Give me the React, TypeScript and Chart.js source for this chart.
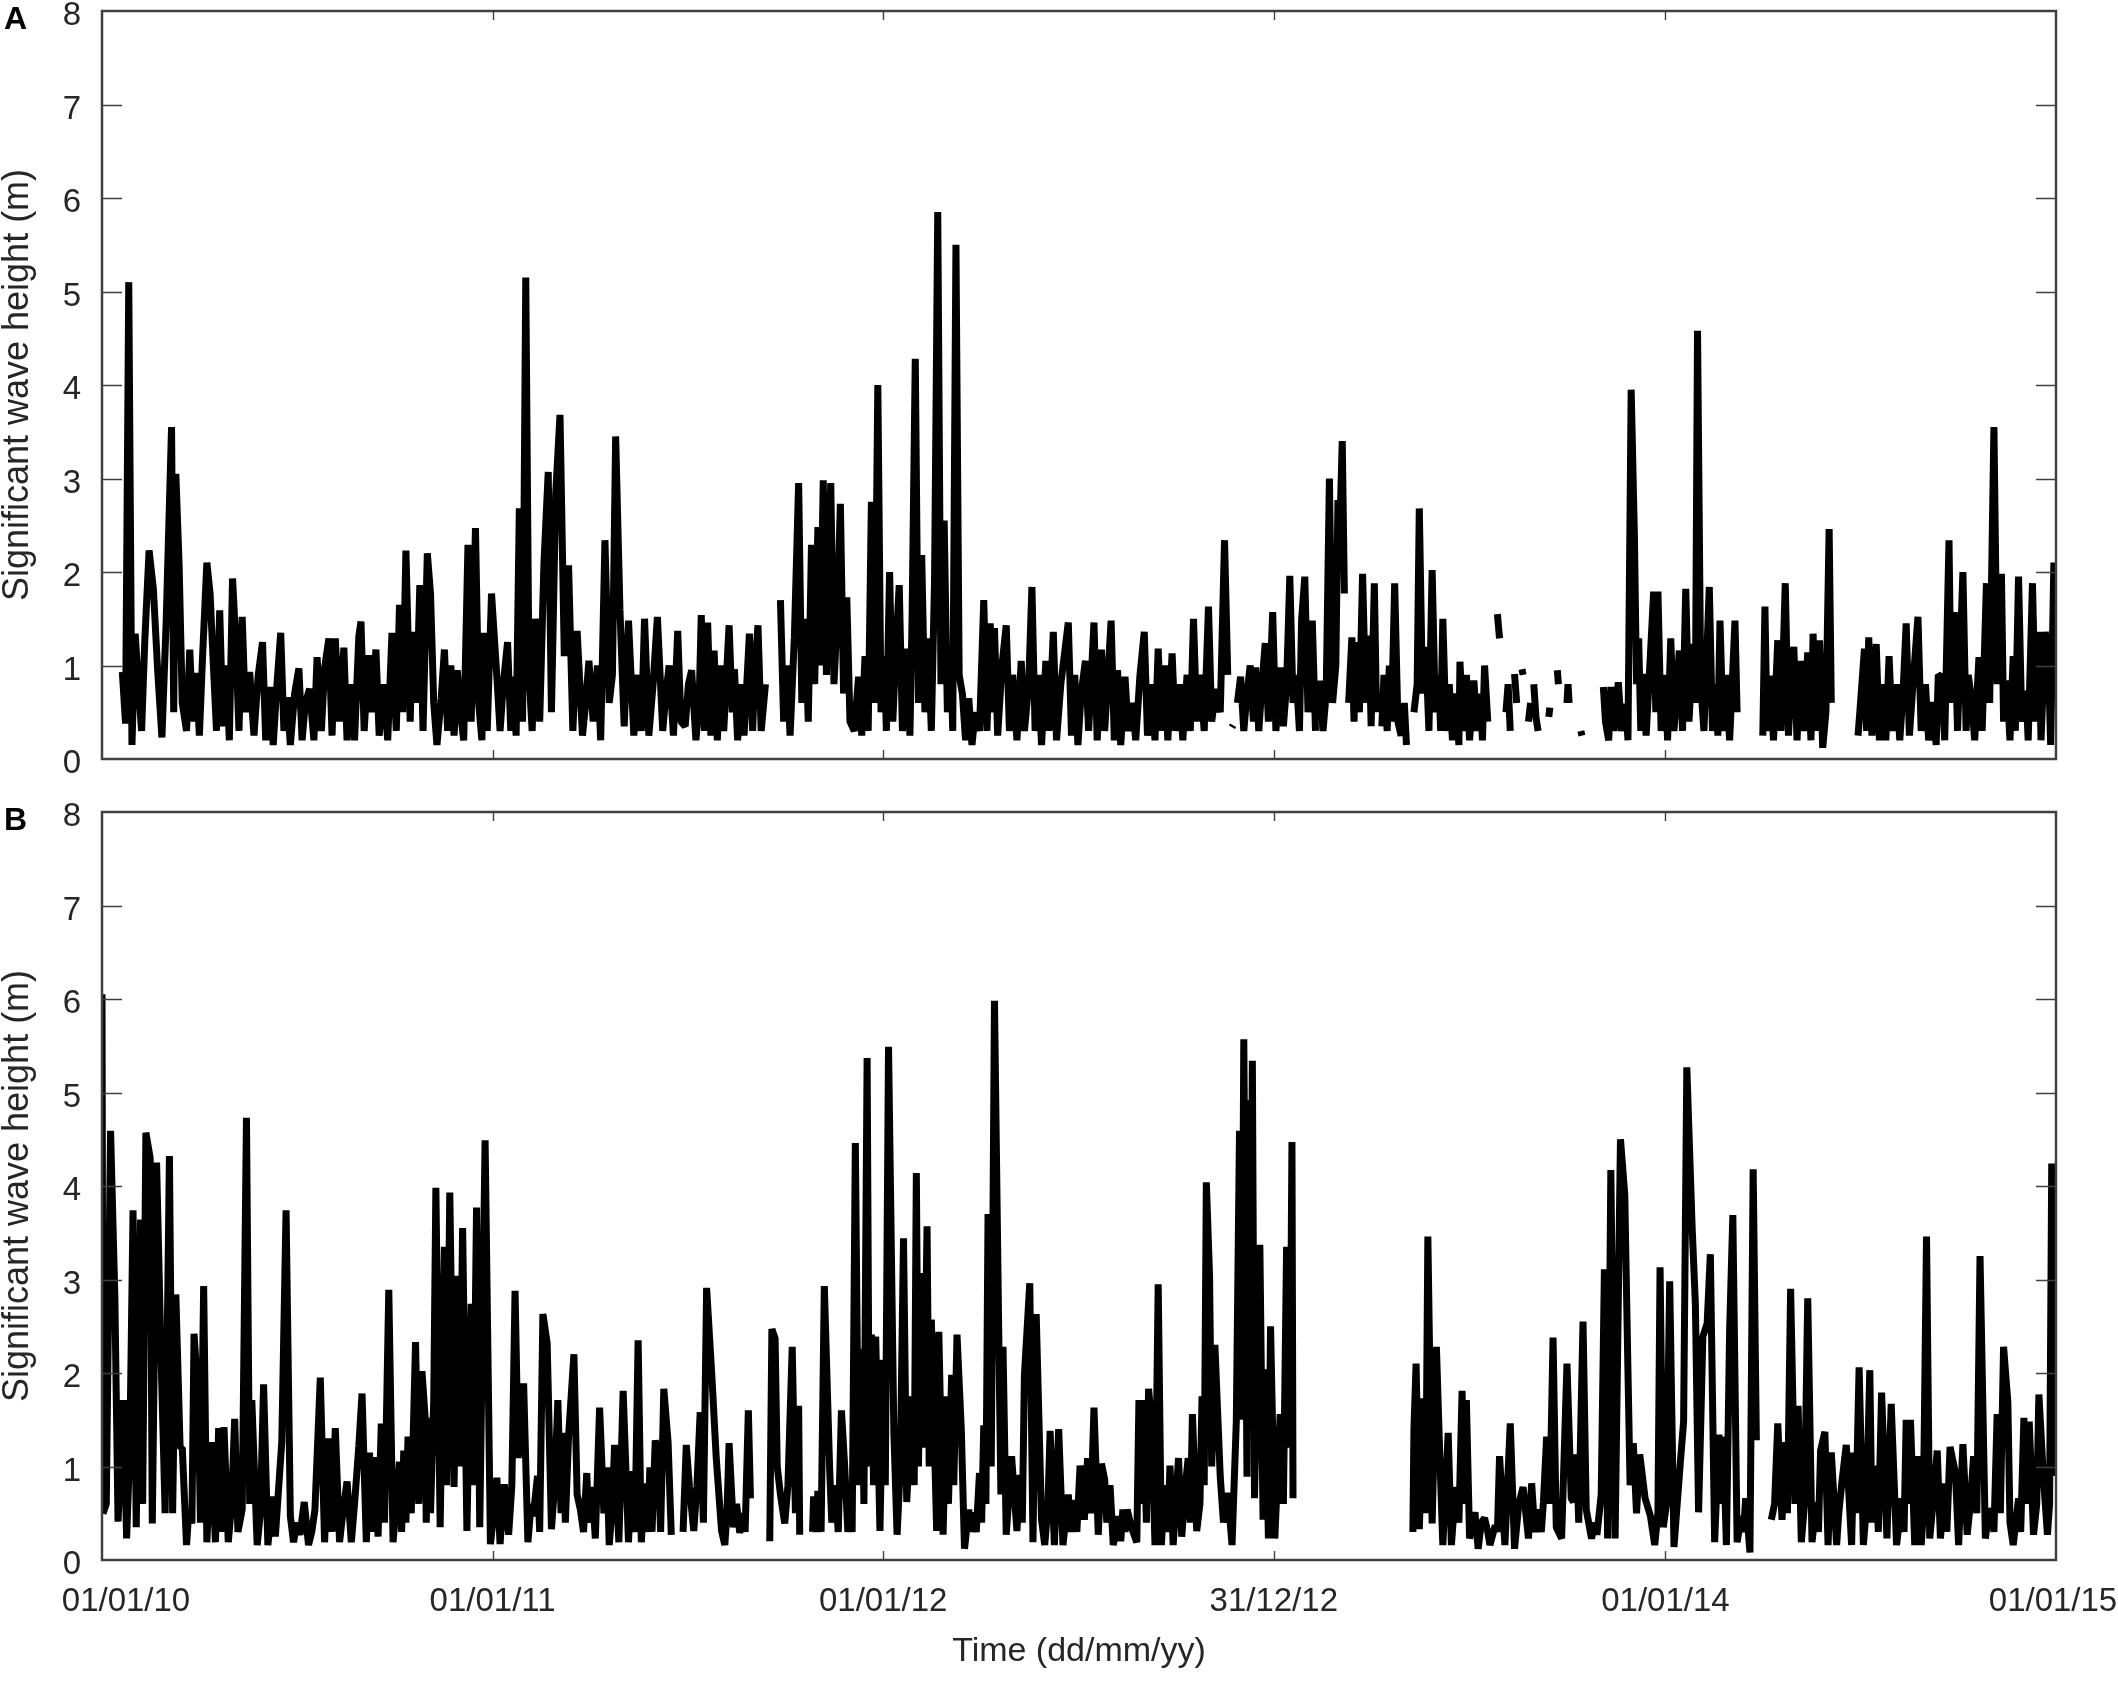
import React, { useEffect, useRef } from 'react';
import { Chart, registerables } from 'chart.js';

Chart.register(...registerables);

// ---------- axis definitions ----------
const X_MAX_DAY = 1826;
const X_TICK_DAYS = [0, 365, 730, 1095, 1461, 1826];
const X_TICK_LABELS = ['01/01/10', '01/01/11', '01/01/12', '31/12/12', '01/01/14', '01/01/15'];
const Y_TICKS = [0, 1, 2, 3, 4, 5, 6, 7, 8];
const Y_TITLE = 'Significant wave height (m)';
const X_TITLE = 'Time (dd/mm/yy)';

type Pt = [number, number | null];

// ---------- Panel A: [day since 01/01/10, Hs (m)] ----------
const hsA2010: Pt[] = [
  [19,0.93],[22,0.38],[25,5.1],[28,0.15],[31,1.34],[34,0.8],[37,0.3],[40,1.27],[44,2.23],[48,1.82],[52,0.95],[56,0.23],[60,1.48],[65,3.55],[67,0.5],[69,3.05],[72,2.1],[75,0.6],[79,0.3],[82,1.17],[85,0.4],[88,0.92],[91,0.25],[94,1.1],[98,2.1],[101,1.77],[104,1.02],[107,0.3],[110,1.59],[113,0.35],[116,1.0],[119,0.2],[122,1.93],[125,1.25],[128,0.3],[131,1.52],[134,0.5],[138,0.93],[142,0.25],[146,0.9],[150,1.25],[153,0.2],[157,0.77],[160,0.15],[163,0.72],[167,1.35],[170,0.3],[173,0.66],[176,0.15],[180,0.7],[184,0.97],[187,0.2],[190,0.6],[194,0.75],[198,0.2],[201,1.09],[205,0.3],[208,0.97],[212,1.29],[215,0.25],[218,1.29],[222,0.4],[226,1.19],[229,0.2],[233,0.8],[236,0.2],[240,1.31],[242,1.47],[245,0.3],[249,1.11],[252,0.5],[256,1.17],[259,0.25],[263,0.8],[267,0.2],[271,1.35],[275,0.3],[278,1.65],[281,0.5],[284,2.23],[288,0.4],[290,1.36],[294,0.6],[297,1.86],[300,0.3],[304,2.2],[307,1.77],[310,0.6],[313,0.15],[317,0.65],[320,1.17],[323,0.3],[326,1.0],[329,0.25],[332,0.95],[335,0.5],[338,0.2],[342,2.29],[345,0.4],[349,2.47],[352,0.6],[355,0.2],[357,1.35],[360,0.3],[364,1.77],
];
const hsA2011: Pt[] = [
  [369,0.88],[372,0.3],[375,0.8],[379,1.25],[382,0.3],[384,0.88],[387,0.25],[390,2.68],[393,0.4],[396,5.15],[399,0.9],[402,0.3],[405,1.5],[409,0.4],[413,2.1],[417,3.07],[420,0.5],[424,2.84],[428,3.68],[432,1.1],[436,2.07],[440,0.3],[444,1.37],[449,0.25],[452,0.6],[455,1.05],[459,0.4],[463,1.0],[466,0.2],[470,2.34],[474,0.6],[477,0.9],[480,3.45],[484,1.6],[488,0.35],[492,1.48],[497,0.25],[501,0.9],[504,0.3],[507,1.5],[511,0.25],[515,0.8],[519,1.52],[524,0.3],[527,0.7],[530,1.0],[534,0.25],[538,1.37],[541,0.4],[545,0.35],[548,0.8],[551,0.95],[555,0.2],[558,0.6],
  [560,1.54],[563,0.3],[566,1.46],[569,0.25],[572,1.16],[575,0.2],[578,1.0],[581,0.3],[586,1.43],[589,0.5],[591,0.96],[594,0.2],[597,0.8],[600,0.25],[605,1.34],[608,0.3],[610,0.9],[613,1.43],[616,0.3],[620,0.8],[622,null],
  [634,1.7],[637,0.4],[640,1.0],[643,0.25],[647,1.3],[651,2.95],[654,0.6],[657,1.5],[660,0.4],[663,2.29],[666,0.8],[669,2.48],[671,1.0],[674,2.98],[677,0.9],[681,2.95],[684,0.8],[687,1.5],[690,2.73],[693,0.7],[696,1.73],[699,0.4],[703,0.3],[707,0.88],[710,0.25],[713,1.1],[716,0.3],[719,2.75],[722,0.6],[725,4.0],[728,0.5],
];
const hsA2012: Pt[] = [
  [731,1.1],[733,0.3],[736,2.0],[739,0.4],[742,1.2],[745,1.86],[748,0.3],[752,1.18],[755,0.25],[757,1.5],[760,4.28],[763,0.6],[766,2.18],[769,0.5],[772,1.29],[775,0.3],[778,1.9],[781,5.85],[784,0.8],[787,2.55],[790,0.5],[793,1.2],[795,0.3],[798,5.5],[801,0.9],[804,0.7],[807,0.2],[810,0.65],[813,0.15],[816,0.5],[820,0.3],[824,1.7],[827,0.3],[830,1.45],[833,0.5],[834,1.4],[837,0.25],[841,1.0],[845,1.43],[848,0.3],[851,0.9],[855,0.2],[859,1.05],[862,0.3],[866,0.8],[869,1.84],[872,0.3],[875,0.9],[878,0.15],[882,1.05],[885,0.3],[889,1.36],[892,0.2],[896,0.8],[903,1.46],[906,0.25],[909,0.9],[912,0.15],[915,0.7],[919,1.05],[922,0.3],[927,1.46],[930,0.2],[934,1.17],[937,0.3],[943,1.48],[946,0.2],[949,0.95],[952,0.15],[956,0.88],[959,0.3],[963,0.6],[966,0.2],[970,0.9],[974,1.36],[977,0.25],[981,0.8],[984,0.2],[987,1.18],[990,0.3],[993,1.0],[996,0.2],[1000,1.13],[1003,0.3],[1007,0.8],[1010,0.2],[1014,0.9],[1017,0.3],[1020,1.5],[1023,0.4],[1026,0.9],[1030,0.3],[1034,1.63],[1037,0.4],[1041,0.75],[1045,0.5],[1049,2.34],[1052,0.9],[1054,null],
  [1056,0.34],[1057,0.36],[1058,null],[1061,0.6],[1064,0.88],[1067,0.3],[1070,0.7],[1073,1.0],[1076,0.4],[1078,0.98],[1081,0.3],[1084,0.8],[1087,1.24],[1090,0.4],[1094,1.57],
];
const hsA2013: Pt[] = [
  [1097,0.3],[1101,0.98],[1104,0.35],[1107,0.8],[1110,1.96],[1113,0.6],[1116,0.9],[1119,0.3],[1121,1.48],[1124,1.95],[1127,0.5],[1131,1.48],[1134,0.3],[1136,null],[1138,0.84],[1141,0.3],[1144,0.7],[1147,3.0],[1150,0.6],[1153,1.0],[1155,2.77],[1157,2.55],[1159,3.4],[1161,1.77],[1163,null],[1165,0.6],[1168,1.3],[1170,0.4],[1172,1.25],[1175,0.5],[1178,1.98],[1181,0.6],[1184,1.32],[1186,0.35],[1189,1.88],[1191,0.5],[1193,null],[1196,0.35],[1198,0.9],[1201,0.3],[1203,1.0],[1205,0.4],[1208,1.88],[1211,0.4],[1214,0.25],[1217,0.6],[1219,0.15],[1221,null],
  [1226,0.5],[1229,0.8],[1231,2.68],[1234,0.7],[1237,1.2],[1240,0.3],[1243,2.02],[1246,0.5],[1249,0.9],[1251,0.3],[1253,1.5],[1256,0.3],[1259,0.8],[1262,0.2],[1265,0.7],[1268,0.15],[1269,1.04],[1272,0.3],[1275,0.9],[1278,0.2],[1282,0.84],[1285,0.3],[1288,0.7],[1290,0.2],[1292,1.0],[1295,0.4],[1297,null],
  [1304,1.55],[1306,1.29],[1307,null],[1312,0.5],[1314,0.8],[1316,0.3],[1317,null],[1320,0.91],[1322,0.6],[1323,null],[1327,0.96],[1328,0.9],[1329,null],[1333,0.4],[1335,0.6],[1336,null],[1338,0.8],[1340,0.45],[1342,0.3],[1343,null],[1352,0.45],[1353,0.55],[1354,null],[1360,0.95],[1361,0.8],[1362,null],[1369,0.6],[1370,0.8],[1371,0.6],[1372,null],[1382,0.3],[1383,0.25],[1384,null],
  [1403,0.77],[1405,0.4],[1408,0.2],[1410,0.77],[1413,0.3],[1417,0.82],[1420,0.3],[1424,0.59],[1426,0.2],[1429,3.95],[1432,2.4],[1434,0.8],[1436,1.29],[1438,0.3],[1440,0.91],[1443,0.25],[1446,0.9],[1450,1.79],[1452,0.5],[1454,1.79],[1457,0.3],
];
const hsA2014: Pt[] = [
  [1461,0.9],[1463,0.2],[1466,1.29],[1469,0.3],[1474,1.16],[1477,0.3],[1480,1.82],[1483,0.4],[1487,1.23],[1489,0.6],[1491,4.58],[1494,0.8],[1497,0.3],[1499,0.9],[1502,1.84],[1505,0.3],[1508,0.8],[1510,0.25],[1512,1.48],[1515,0.3],[1518,0.9],[1521,0.2],[1523,0.7],[1526,1.48],[1528,0.5],[1529,null],
  [1552,0.25],[1554,1.63],[1556,0.3],[1559,0.89],[1562,0.2],[1566,1.27],[1569,0.3],[1573,1.88],[1576,0.25],[1578,0.8],[1581,1.2],[1584,0.2],[1587,1.05],[1590,0.3],[1594,1.14],[1597,0.2],[1599,1.34],[1602,0.3],[1605,1.27],[1608,0.12],[1611,0.5],[1614,2.46],[1616,0.6],[1617,null],
  [1641,0.25],[1643,0.55],[1647,1.18],[1649,0.3],[1651,1.3],[1654,0.25],[1658,1.23],[1661,0.2],[1664,0.8],[1667,0.2],[1670,1.1],[1673,0.3],[1677,0.8],[1680,0.2],[1683,0.7],[1686,1.45],[1689,0.25],[1693,0.9],[1697,1.52],[1700,0.3],[1704,0.8],[1707,0.2],[1711,0.61],[1714,0.15],[1716,0.9],[1719,0.88],[1722,0.2],[1726,2.34],[1728,0.6],[1731,1.57],[1734,0.3],[1739,2.0],[1742,0.3],[1744,0.9],[1747,0.64],[1750,0.2],[1754,1.09],[1757,0.3],[1761,1.88],[1764,0.6],[1768,3.55],[1771,0.8],[1775,1.98],[1777,0.4],[1780,0.84],[1783,0.2],[1786,1.1],[1788,0.3],[1791,1.95],[1794,0.4],[1798,0.73],[1800,0.2],[1804,1.88],[1807,0.4],[1810,1.36],[1812,0.2],[1816,1.36],[1819,1.0],[1821,0.15],[1824,2.1],[1826,0.8],
];

// ---------- Panel B: [day since 01/01/10, Hs (m)] ----------
const hsB2010: Pt[] = [
  [0,6.05],[1,0.5],[4,0.6],[8,4.59],[12,2.82],[15,0.41],[20,1.71],[23,0.23],[26,1.2],[29,3.74],[32,0.35],[36,3.64],[38,0.6],[41,4.57],[45,4.3],[47,0.39],[51,4.25],[55,2.26],[59,0.5],[63,4.32],[66,0.5],[69,2.84],[73,1.2],[75,1.2],[79,0.16],[81,0.5],[84,0.39],[86,2.42],[90,1.71],[92,0.4],[95,2.93],[98,0.19],[102,1.26],[106,0.19],[109,1.41],[111,0.3],[114,1.42],[118,0.19],[121,0.58],[124,1.51],[127,0.3],[131,0.54],[135,4.73],[138,0.6],[140,1.71],[145,0.16],[148,0.5],[151,1.88],[155,0.16],[160,0.68],[162,0.25],[165,0.76],[168,1.26],[172,3.74],[176,0.47],[179,0.19],[182,0.4],[185,0.27],[189,0.62],[193,0.16],[196,0.3],[199,0.54],[204,1.95],[208,0.19],[212,1.3],[215,0.3],[218,1.41],[222,0.19],[225,0.5],[229,0.84],[233,0.19],[236,0.6],[240,1.22],[243,1.78],[247,0.19],[250,1.15],[252,0.3],[255,1.1],[258,0.25],[261,1.46],[264,0.4],[268,2.89],[272,0.19],[275,0.6],[278,1.05],[280,0.3],[282,1.17],[284,0.4],[286,1.32],[289,0.5],[293,2.33],[296,0.6],[299,2.02],[302,1.52],[303,0.4],[305,1.52],[307,0.5],[310,1.71],[312,3.98],[316,0.35],[320,3.35],[322,0.8],[325,3.93],[329,0.78],[332,3.04],[334,1.0],[337,3.55],[341,0.31],[345,2.74],[347,0.8],[350,3.77],[353,0.35],[358,4.49],[363,0.17],
];
const hsB2011: Pt[] = [
  [366,0.5],[369,0.88],[372,0.17],[376,0.81],[380,0.27],[383,0.8],[386,2.88],[389,1.09],[394,1.89],[398,0.19],[401,0.6],[403,0.47],[407,0.9],[409,0.3],[412,2.63],[416,2.32],[420,0.33],[423,0.8],[426,1.71],[429,0.5],[431,1.36],[433,0.4],[436,1.32],[441,2.2],[444,0.7],[447,0.54],[450,0.3],[453,0.93],[455,0.4],[458,0.78],[461,0.23],[465,1.63],[469,0.5],[472,0.99],[474,0.16],[477,0.6],[479,1.23],[483,0.19],[487,1.81],[492,0.19],[495,0.95],[498,0.3],[501,2.35],[504,0.19],[507,0.82],[510,0.3],[512,0.99],[514,0.3],[517,1.28],[520,1.05],[522,0.3],[525,1.83],[529,1.26],[532,0.27],[533,null],
  [543,0.3],[546,1.23],[549,0.78],[553,0.31],[556,0.8],[559,1.58],[562,0.4],[565,2.91],[570,1.95],[574,1.09],[579,0.31],[582,0.16],[584,0.5],[586,1.25],[590,0.35],[593,0.6],[596,0.29],[599,0.5],[601,0.3],[604,1.6],[606,0.66],[607,null],
  [624,0.2],[626,2.47],[629,2.37],[631,1.0],[634,0.7],[638,0.39],[641,0.8],[645,2.28],[648,0.5],[651,1.65],[652,0.27],[653,null],
  [664,0.3],[665,0.68],[667,0.3],[669,0.74],[672,0.3],[675,2.93],[680,0.97],[682,0.4],[685,0.8],[688,0.3],[691,1.6],[694,1.01],[697,0.3],[699,0.49],[701,0.3],[704,4.46],[707,0.8],[710,2.26],[712,0.6],[715,5.37],[717,1.0],[719,2.41],[721,0.8],[723,2.39],[727,0.31],
];
const hsB2012: Pt[] = [
  [730,2.14],[732,0.8],[735,5.49],[740,1.36],[743,0.27],[746,1.0],[749,3.44],[752,0.62],[757,1.75],[759,0.8],[761,4.14],[763,1.0],[765,3.07],[768,1.2],[771,3.57],[773,1.0],[775,2.57],[780,0.31],[782,2.44],[786,0.27],[789,1.75],[791,0.6],[794,1.98],[796,0.8],[799,2.41],[803,1.4],[806,0.12],[810,0.54],[812,0.3],[814,0.51],[817,0.3],[820,0.93],[822,0.4],[824,1.44],[826,0.6],[828,3.7],[831,1.0],[834,5.98],[838,2.43],[840,0.7],[842,2.28],[845,0.27],[850,1.11],[855,0.31],[858,0.91],[860,0.4],[862,1.98],[867,2.96],[870,0.19],[873,2.63],[878,0.43],[881,0.16],[884,0.6],[886,1.38],[890,0.16],[894,1.4],[898,0.16],[903,0.7],[905,0.3],[908,0.64],[911,0.3],[914,1.01],[918,0.43],[921,1.09],[924,0.5],[927,1.63],[931,0.27],[934,1.03],[937,0.86],[939,0.4],[942,0.8],[945,0.16],[950,0.47],[952,0.2],[954,0.54],[956,0.3],[958,0.54],[962,0.35],[967,0.19],[969,1.71],[971,0.6],[973,1.71],[976,0.4],[978,1.83],[981,1.46],[984,0.16],[987,2.95],[990,0.16],[993,0.8],[996,0.3],[998,1.01],[1001,0.16],[1006,1.09],[1009,0.25],[1013,0.86],[1015,1.09],[1017,0.4],[1019,1.56],[1023,0.31],[1026,0.6],[1028,1.75],[1030,0.8],[1032,4.04],[1035,3.04],[1037,1.0],[1040,2.3],[1045,0.89],[1048,0.4],[1052,0.72],[1056,0.16],[1060,1.48],[1063,4.59],[1065,1.5],[1067,5.57],[1070,0.89],[1071,4.92],[1073,1.5],[1075,5.34],[1077,0.66],[1082,3.37],[1085,0.43],[1087,2.04],[1090,0.23],[1092,2.5],
];
const hsB2013: Pt[] = [
  [1096,0.23],[1101,1.56],[1104,0.6],[1107,3.35],[1110,1.2],[1112,4.47],[1113,0.66],[1114,null],
  [1225,0.3],[1226,1.4],[1228,2.1],[1231,0.33],[1235,1.73],[1237,0.5],[1239,3.46],[1243,0.39],[1247,2.28],[1250,1.17],[1253,0.16],[1258,1.36],[1261,0.16],[1265,0.78],[1268,0.4],[1271,1.81],[1273,0.6],[1275,1.71],[1278,0.23],[1283,0.51],[1286,0.12],[1289,0.4],[1292,0.45],[1295,0.3],[1297,0.16],[1302,0.37],[1304,0.3],[1306,1.11],[1311,0.16],[1316,1.46],[1320,0.12],[1324,0.6],[1328,0.78],[1333,0.23],[1336,0.82],[1339,0.3],[1342,0.54],[1345,0.3],[1347,0.62],[1350,1.32],[1353,0.6],[1356,2.38],[1359,0.35],[1364,0.23],[1369,2.1],[1373,0.66],[1375,0.62],[1378,1.13],[1380,0.4],[1384,2.55],[1387,0.54],[1392,0.23],[1395,0.4],[1397,0.27],[1401,0.7],[1404,3.11],[1407,0.23],[1410,4.17],[1414,0.23],[1419,4.5],[1423,3.91],[1426,2.02],[1428,0.8],[1431,1.25],[1434,0.5],[1437,1.13],[1442,0.66],[1447,0.47],[1451,0.16],[1454,0.5],[1456,3.13],[1459,0.35],
];
const hsB2014: Pt[] = [
  [1462,0.6],[1465,2.98],[1469,0.14],[1472,0.6],[1475,1.05],[1478,1.48],[1481,5.27],[1486,3.55],[1489,2.74],[1492,0.51],[1496,2.39],[1500,2.53],[1503,3.27],[1507,0.19],[1511,1.34],[1513,0.6],[1515,1.32],[1518,0.16],[1521,2.45],[1524,3.69],[1528,0.19],[1532,0.47],[1534,0.3],[1536,0.66],[1540,0.08],[1543,4.18],[1546,1.28],[1547,null],
  [1560,0.43],[1563,0.6],[1566,1.46],[1570,0.43],[1573,1.26],[1575,0.5],[1578,2.9],[1582,0.6],[1585,1.65],[1588,0.19],[1591,0.6],[1594,2.8],[1598,0.19],[1602,0.62],[1604,0.3],[1606,1.17],[1610,1.37],[1613,0.16],[1616,1.15],[1621,0.16],[1623,0.5],[1626,0.84],[1630,1.23],[1635,0.16],[1637,1.15],[1639,0.5],[1642,2.06],[1646,0.16],[1649,0.6],[1652,2.03],[1654,0.4],[1657,1.01],[1660,0.3],[1663,1.79],[1668,0.23],[1672,1.67],[1677,0.16],[1682,0.66],[1684,0.3],[1686,1.5],[1688,0.6],[1690,1.5],[1694,0.16],[1697,1.11],[1700,0.16],[1702,0.5],[1705,3.46],[1708,0.23],[1711,0.6],[1715,1.17],[1718,0.23],[1722,0.82],[1724,0.3],[1727,1.21],[1732,0.93],[1735,0.16],[1739,1.24],[1743,0.27],[1746,0.6],[1749,1.11],[1752,0.5],[1755,3.25],[1760,0.23],[1763,0.5],[1766,0.54],[1768,0.3],[1771,1.56],[1774,0.5],[1777,2.28],[1781,1.69],[1783,0.4],[1786,0.16],[1791,0.66],[1793,0.3],[1796,1.52],[1798,0.6],[1801,1.48],[1805,0.27],[1808,0.6],[1810,1.77],[1814,0.93],[1818,0.27],[1820,0.6],[1822,4.24],[1824,0.9],[1826,1.4],
];

const seriesA: Pt[] = [...hsA2010, ...hsA2011, ...hsA2012, ...hsA2013, ...hsA2014];
const seriesB: Pt[] = [...hsB2010, ...hsB2011, ...hsB2012, ...hsB2013, ...hsB2014];

// ---------- styling ----------
const FONT = "'Liberation Sans', Arial, Helvetica, sans-serif";
const INK = '#262626';
const AXIS = '#404040';
const W = 2118;
const H_A = 790;
const H_B = 897;
const TICK_FONT = 33;
const TITLE_FONT = 36;

const framePlugin = {
  id: 'matlabFrame',
  afterDraw(chart: any, _args: any, opts: any) {
    const { ctx, chartArea: ca, scales } = chart;
    const xs = scales.x;
    const ys = scales.y;
    ctx.save();
    ctx.strokeStyle = AXIS;
    ctx.lineWidth = 1.4;
    ctx.beginPath();
    for (const v of Y_TICKS) {
      if (v === Y_TICKS[0] || v === Y_TICKS[Y_TICKS.length - 1]) continue;
      const py = Math.round(ys.getPixelForValue(v)) + 0.5;
      ctx.moveTo(ca.left, py);
      ctx.lineTo(ca.left + 20, py);
      ctx.moveTo(ca.right, py);
      ctx.lineTo(ca.right - 20, py);
    }
    for (const d of X_TICK_DAYS.slice(1, -1)) {
      const px = Math.round(xs.getPixelForValue(d)) + 0.5;
      ctx.moveTo(px, ca.bottom);
      ctx.lineTo(px, ca.bottom - 9);
      ctx.moveTo(px, ca.top);
      ctx.lineTo(px, ca.top + 9);
    }
    ctx.stroke();
    ctx.lineWidth = 2.5;
    ctx.strokeRect(ca.left, ca.top, ca.right - ca.left, ca.bottom - ca.top);

    // y tick labels
    ctx.fillStyle = INK;
    ctx.font = `${TICK_FONT}px ${FONT}`;
    ctx.textAlign = 'right';
    ctx.textBaseline = 'middle';
    for (const v of Y_TICKS) {
      ctx.fillText(String(v), ca.left - 21, ys.getPixelForValue(v) + 5);
    }

    // panel letter
    ctx.fillStyle = '#000';
    ctx.font = `bold 32px ${FONT}`;
    ctx.textAlign = 'left';
    ctx.textBaseline = 'alphabetic';
    ctx.fillText(opts.letter, 4, opts.letterBaseline);

    if (opts.xLabels) {
      ctx.fillStyle = INK;
      ctx.font = `${TICK_FONT}px ${FONT}`;
      ctx.textAlign = 'center';
      ctx.textBaseline = 'middle';
      X_TICK_DAYS.forEach((d, i) => {
        const shift = i === 0 ? 24 : i === X_TICK_DAYS.length - 1 ? -3 : 0;
        ctx.fillText(X_TICK_LABELS[i], xs.getPixelForValue(d) + shift, ca.bottom + 42);
      });
    }
    ctx.restore();
  },
};

function makeConfig(series: Pt[], opts: { showX: boolean; padding: any; letter: string; letterBaseline: number; xHeight: number }) {
  return {
    type: 'line' as const,
    data: {
      datasets: [
        {
          data: series.map(([x, y]) => ({ x, y })),
          borderColor: '#000',
          borderWidth: 7,
          pointRadius: 0,
          pointHoverRadius: 0,
          borderJoinStyle: 'bevel' as const,
          borderCapStyle: 'butt' as const,
          spanGaps: false,
          tension: 0,
          fill: false,
        },
      ],
    },
    options: {
      responsive: false,
      animation: false as const,
      events: [],
      layout: { padding: opts.padding },
      plugins: {
        legend: { display: false },
        tooltip: { enabled: false },
        matlabFrame: { letter: opts.letter, letterBaseline: opts.letterBaseline, xLabels: opts.showX },
      },
      scales: {
        x: {
          type: 'linear' as const,
          min: 0,
          max: X_MAX_DAY,
          display: opts.showX,
          grid: { display: false, drawTicks: false },
          border: { display: false },
          ticks: { display: false },
          afterBuildTicks: (s: any) => {
            s.ticks = X_TICK_DAYS.map((v) => ({ value: v }));
          },
          title: {
            display: opts.showX,
            text: X_TITLE,
            color: INK,
            font: { family: FONT, size: 34, lineHeight: 1 },
            padding: { top: 0, bottom: 18 },
          },
          afterFit: (s: any) => {
            s.height = opts.xHeight;
            s.paddingLeft = 0;
            s.paddingRight = 0;
          },
        },
        y: {
          type: 'linear' as const,
          min: 0,
          max: 8,
          grid: { display: false, drawTicks: false },
          border: { display: false },
          afterBuildTicks: (s: any) => {
            s.ticks = Y_TICKS.map((v) => ({ value: v }));
          },
          ticks: { display: false },
          title: {
            display: true,
            text: Y_TITLE,
            color: INK,
            font: { family: FONT, size: TITLE_FONT, lineHeight: 1 },
            padding: { top: 0, bottom: 0 },
          },
          afterFit: (s: any) => {
            s.width = 102;
            s.paddingTop = 0;
            s.paddingBottom = 0;
          },
        },
      },
    },
    plugins: [framePlugin],
  };
}

export default function App() {
  const refA = useRef<HTMLCanvasElement | null>(null);
  const refB = useRef<HTMLCanvasElement | null>(null);

  useEffect(() => {
    if (!refA.current || !refB.current) return;
    const chartA = new Chart(
      refA.current,
      makeConfig(seriesA, {
        showX: false,
        padding: { top: 11, right: 62, bottom: 31, left: 0 },
        letter: 'A',
        letterBaseline: 29,
        xHeight: 0,
      }) as any
    );
    const chartB = new Chart(
      refB.current,
      makeConfig(seriesB, {
        showX: true,
        padding: { top: 22, right: 62, bottom: 0, left: 0 },
        letter: 'B',
        letterBaseline: 40,
        xHeight: 127,
      }) as any
    );
    return () => {
      chartA.destroy();
      chartB.destroy();
    };
  }, []);

  return (
    <div style={{ position: 'absolute', left: 0, top: 0, width: W, height: H_A + H_B, background: '#fff' }}>
      <canvas ref={refA} width={W} height={H_A} style={{ position: 'absolute', left: 0, top: 0, width: W, height: H_A }} />
      <canvas ref={refB} width={W} height={H_B} style={{ position: 'absolute', left: 0, top: H_A, width: W, height: H_B }} />
    </div>
  );
}
